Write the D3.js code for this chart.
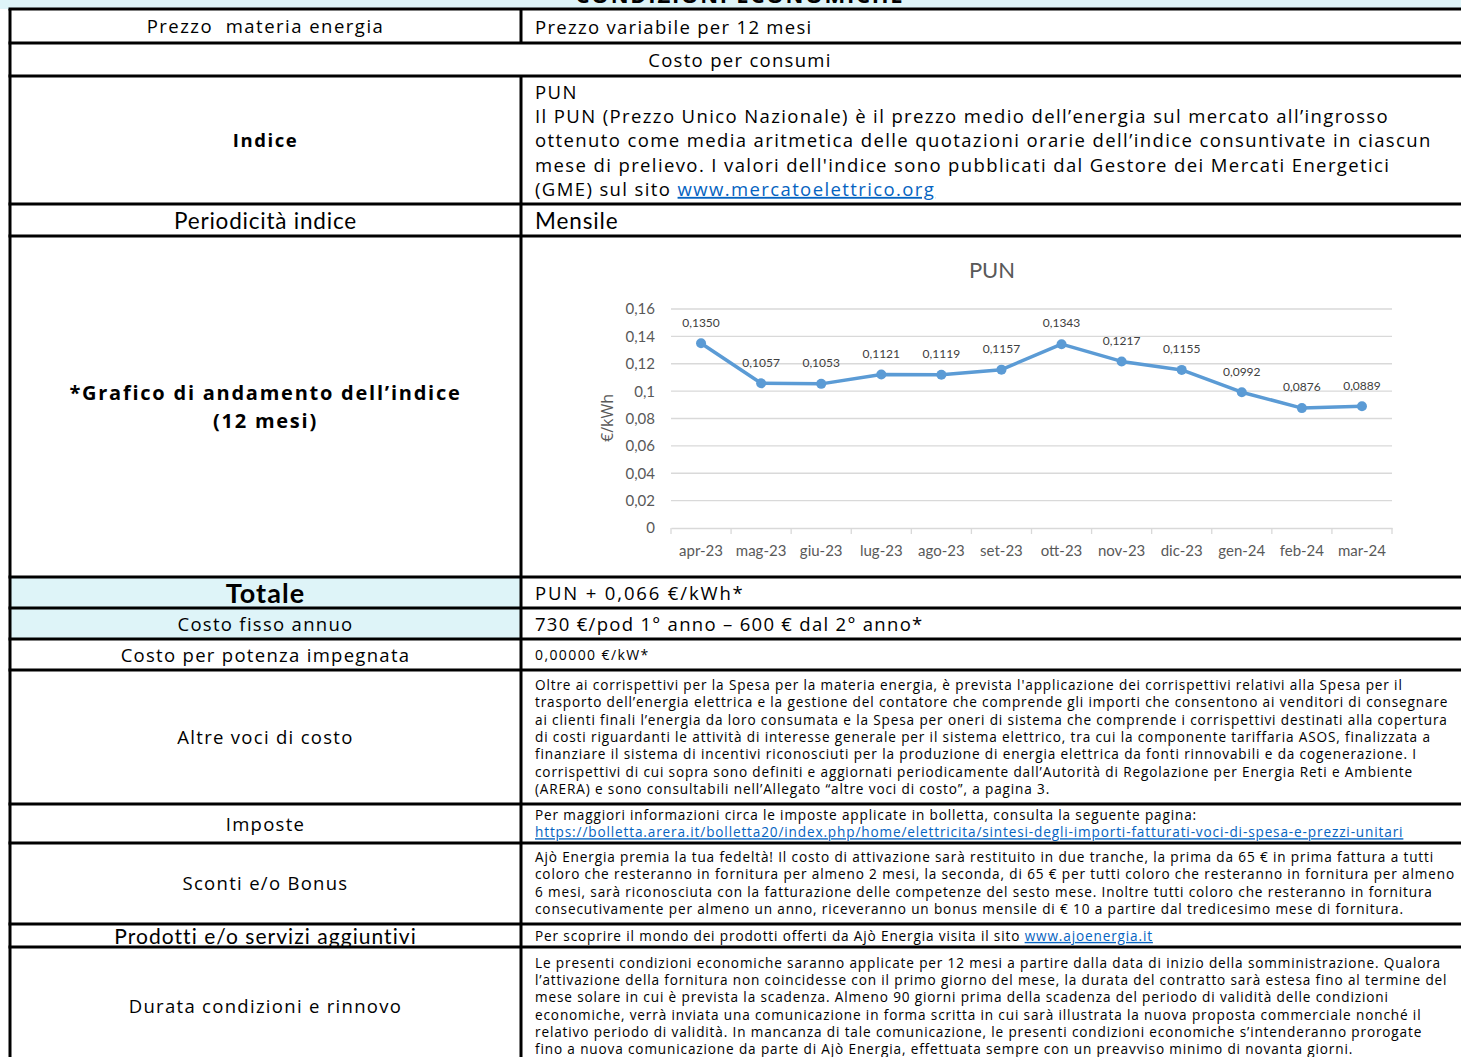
<!DOCTYPE html>
<html>
<head>
<meta charset="utf-8">
<script src="https://cdn.jsdelivr.net/npm/d3@7"></script>
<style>
  body { margin: 0; background: #fff; }
  svg { display: block; }
</style>
</head>
<body>
<script>
"use strict";

// chart data
var months = ["apr-23", "mag-23", "giu-23", "lug-23", "ago-23", "set-23",
              "ott-23", "nov-23", "dic-23", "gen-24", "feb-24", "mar-24"];
var pun = [0.1350, 0.1057, 0.1053, 0.1121, 0.1119, 0.1157,
           0.1343, 0.1217, 0.1155, 0.0992, 0.0876, 0.0889];
var yTicks = [0, 0.02, 0.04, 0.06, 0.08, 0.1, 0.12, 0.14, 0.16];

// table text
var headerTitle = "CONDIZIONI ECONOMICHE";
var indiceLines = [
  "PUN",
  "Il PUN (Prezzo Unico Nazionale) è il prezzo medio dell’energia sul mercato all’ingrosso",
  "ottenuto come media aritmetica delle quotazioni orarie dell’indice consuntivate in ciascun",
  "mese di prelievo. I valori dell'indice sono pubblicati dal Gestore dei Mercati Energetici",
  ["(GME) sul sito ", "www.mercatoelettrico.org"]
];
var altreLines = [
  "Oltre ai corrispettivi per la Spesa per la materia energia, è prevista l'applicazione dei corrispettivi relativi alla Spesa per il",
  "trasporto dell’energia elettrica e la gestione del contatore che comprende gli importi che consentono ai venditori di consegnare",
  "ai clienti finali l’energia da loro consumata e la Spesa per oneri di sistema che comprende i corrispettivi destinati alla copertura",
  "di costi riguardanti le attività di interesse generale per il sistema elettrico, tra cui la componente tariffaria ASOS, finalizzata a",
  "finanziare il sistema di incentivi riconosciuti per la produzione di energia elettrica da fonti rinnovabili e da cogenerazione. I",
  "corrispettivi di cui sopra sono definiti e aggiornati periodicamente dall’Autorità di Regolazione per Energia Reti e Ambiente",
  "(ARERA) e sono consultabili nell’Allegato “altre voci di costo”, a pagina 3."
];
var imposteLines = [
  "Per maggiori informazioni circa le imposte applicate in bolletta, consulta la seguente pagina:",
  ["", "https://bolletta.arera.it/bolletta20/index.php/home/elettricita/sintesi-degli-importi-fatturati-voci-di-spesa-e-prezzi-unitari"]
];
var scontiLines = [
  "Ajò Energia premia la tua fedeltà! Il costo di attivazione sarà restituito in due tranche, la prima da 65 € in prima fattura a tutti",
  "coloro che resteranno in fornitura per almeno 2 mesi, la seconda, di 65 € per tutti coloro che resteranno in fornitura per almeno",
  "6 mesi, sarà riconosciuta con la fatturazione delle competenze del sesto mese. Inoltre tutti coloro che resteranno in fornitura",
  "consecutivamente per almeno un anno, riceveranno un bonus mensile di € 10 a partire dal tredicesimo mese di fornitura."
];
var prodottiLines = [
  ["Per scoprire il mondo dei prodotti offerti da Ajò Energia visita il sito ", "www.ajoenergia.it"]
];
var durataLines = [
  "Le presenti condizioni economiche saranno applicate per 12 mesi a partire dalla data di inizio della somministrazione. Qualora",
  "l’attivazione della fornitura non coincidesse con il primo giorno del mese, la durata del contratto sarà estesa fino al termine del",
  "mese solare in cui è prevista la scadenza. Almeno 90 giorni prima della scadenza del periodo di validità delle condizioni",
  "economiche, verrà inviata una comunicazione in forma scritta in cui sarà illustrata la nuova proposta commerciale nonché il",
  "relativo periodo di validità. In mancanza di tale comunicazione, le presenti condizioni economiche s’intenderanno prorogate",
  "fino a nuova comunicazione da parte di Ajò Energia, effettuata sempre con un preavviso minimo di novanta giorni."
];

var W = 1461, H = 1057;
var xL = 10, xM = 521;
var gotham = "'Open Sans', sans-serif";
var calibri = "Lato, 'Open Sans', sans-serif";
var linkCol = "#0563c1";

var svg = d3.select("body").append("svg")
    .attr("width", W)
    .attr("height", H);

// backgrounds
svg.append("rect").attr("x", 0).attr("y", 0).attr("width", W).attr("height", 9).attr("fill", "#def4f8");
svg.append("rect").attr("x", xL).attr("y", 577).attr("width", xM - xL).attr("height", 62).attr("fill", "#def4f8");

svg.append("text")
    .attr("x", 740).attr("y", 3)
    .attr("text-anchor", "middle")
    .style("font-family", gotham).style("font-weight", "bold").style("font-size", "22px")
    .style("letter-spacing", "0.08em")
    .text(headerTitle);

// row layout
var rowLines = [9, 43, 76, 204, 236, 577, 608, 639, 670, 804, 843, 924, 947];

function cellText(x, y, str, size, opts){
  opts = opts || {};
  var ls = opts.ls != null ? opts.ls : (opts.font ? 0 : (opts.bold ? 0.085 : 0.07));
  return svg.append("text")
    .attr("x", x).attr("y", y).attr("dy", "0.36em")
    .attr("text-anchor", opts.anchor || "start")
    .style("font-family", opts.font || gotham)
    .style("font-size", size + "px")
    .style("font-weight", opts.bold ? "bold" : "normal")
    .style("letter-spacing", ls + "em")
    .style("white-space", "pre")
    .style("fill", "#000")
    .text(str);
}

function paragraph(x, y0, step, lines, size, ls){
  lines.forEach(function(l, i){
    var t = svg.append("text")
      .attr("x", x).attr("y", y0 + i * step).attr("dy", "0.36em")
      .style("font-family", gotham)
      .style("font-size", size + "px")
      .style("letter-spacing", ls + "em")
      .style("fill", "#000");
    if (typeof l === "string") { t.text(l); return; }
    if (l[0]) t.append("tspan").text(l[0]);
    t.append("tspan").style("fill", linkCol).style("text-decoration", "underline").text(l[1]);
  });
}

var cx = (xL + xM) / 2;
var rx = 535;
var pls = 0.063;

cellText(cx, 26, "Prezzo  materia energia", 18.5, {anchor: "middle", ls: 0.08});
cellText(rx, 27, "Prezzo variabile per 12 mesi", 18.5);
cellText(740, 60, "Costo per consumi", 18.5, {anchor: "middle"});

cellText(cx, 140, "Indice", 18.5, {anchor: "middle", bold: true});
paragraph(rx, 92, 24.3, indiceLines, 18.5, 0.075);

cellText(cx, 221, "Periodicità indice", 22.5, {anchor: "middle", font: calibri, ls: 0.035});
cellText(rx, 221, "Mensile", 22.5, {font: calibri, ls: 0.04});

cellText(cx, 393, "*Grafico di andamento dell’indice", 20, {anchor: "middle", bold: true, ls: 0.088});
cellText(cx, 421, "(12 mesi)", 20, {anchor: "middle", bold: true, ls: 0.088});

cellText(cx, 593, "Totale", 27, {anchor: "middle", bold: true, font: calibri, ls: 0.04});
cellText(rx, 593, "PUN + 0,066 €/kWh*", 18.5, {ls: 0.1});
cellText(cx, 624, "Costo fisso annuo", 18.5, {anchor: "middle"});
cellText(rx, 624, "730 €/pod 1° anno – 600 € dal 2° anno*", 18.5);
cellText(cx, 655, "Costo per potenza impegnata", 18.5, {anchor: "middle"});
cellText(rx, 655, "0,00000 €/kW*", 14, {ls: 0.1});

cellText(cx, 737, "Altre voci di costo", 18.5, {anchor: "middle"});
paragraph(rx, 685, 17.35, altreLines, 13.6, pls);

cellText(cx, 824, "Imposte", 18.5, {anchor: "middle"});
paragraph(rx, 815, 17.35, imposteLines, 13.6, pls);

cellText(cx, 883, "Sconti e/o Bonus", 18.5, {anchor: "middle"});
paragraph(rx, 857, 17.35, scontiLines, 13.6, pls);

cellText(cx, 936, "Prodotti e/o servizi aggiuntivi", 21, {anchor: "middle", font: calibri, ls: 0.05});
paragraph(rx, 936, 17.35, prodottiLines, 13.6, pls);

cellText(cx, 1006, "Durata condizioni e rinnovo", 18.5, {anchor: "middle"});
paragraph(rx, 963, 17.3, durataLines, 13.6, pls);

// ---- PUN chart ----
var grey = "#595959";
var x = d3.scaleBand().domain(months).range([671, 1392]);
var y = d3.scaleLinear().domain([0, 0.16]).range([528, 309]);
var fmt = function(v){ return String(+v.toFixed(2)).replace(".", ","); };

var chart = svg.append("g").attr("class", "chart");

chart.append("text")
    .attr("x", 992).attr("y", 270).attr("dy", "0.36em")
    .attr("text-anchor", "middle")
    .style("font-family", calibri).style("font-size", "22px").style("fill", grey)
    .text("PUN");

chart.selectAll("line.grid")
    .data(yTicks.filter(function(d){ return d > 0; }))
    .enter().append("line")
    .attr("class", "grid")
    .attr("x1", 671).attr("x2", 1392)
    .attr("y1", function(d){ return y(d); })
    .attr("y2", function(d){ return y(d); })
    .style("stroke", "#d9d9d9").style("stroke-width", 1.3);

var xAxis = chart.append("g")
    .attr("transform", "translate(0," + y(0) + ")")
    .call(d3.axisBottom(x).tickSize(0).tickFormat(""));
xAxis.select(".domain").style("stroke", "#d9d9d9").style("stroke-width", 1.3);
xAxis.selectAll(".tick").remove();

chart.selectAll("line.xtick")
    .data(months.concat(["end"]))
    .enter().append("line")
    .attr("class", "xtick")
    .attr("x1", function(d, i){ return 671 + i * x.bandwidth(); })
    .attr("x2", function(d, i){ return 671 + i * x.bandwidth(); })
    .attr("y1", y(0)).attr("y2", y(0) + 6)
    .style("stroke", "#d9d9d9").style("stroke-width", 1.3);

chart.selectAll("text.xlab")
    .data(months)
    .enter().append("text")
    .attr("class", "xlab")
    .attr("x", function(d){ return x(d) + x.bandwidth() / 2; })
    .attr("y", 551).attr("dy", "0.36em")
    .attr("text-anchor", "middle")
    .style("font-family", calibri).style("font-size", "15px").style("fill", grey)
    .text(function(d){ return d; });

chart.selectAll("text.ylab")
    .data(yTicks)
    .enter().append("text")
    .attr("class", "ylab")
    .attr("x", 655)
    .attr("y", function(d){ return y(d); }).attr("dy", "0.36em")
    .attr("text-anchor", "end")
    .style("font-family", calibri).style("font-size", "15px").style("fill", grey)
    .text(fmt);

chart.append("text")
    .attr("transform", "translate(607,418) rotate(-90)")
    .attr("dy", "0.36em")
    .attr("text-anchor", "middle")
    .style("font-family", gotham).style("font-size", "16px").style("fill", grey)
    .text("€/kWh");

var line = d3.line()
    .x(function(d, i){ return x(months[i]) + x.bandwidth() / 2; })
    .y(function(d){ return y(d); });

chart.append("path")
    .datum(pun)
    .attr("d", line)
    .style("fill", "none")
    .style("stroke", "#5b9bd5")
    .style("stroke-width", 3.5)
    .style("stroke-linejoin", "round");

chart.selectAll("circle.pt")
    .data(pun)
    .enter().append("circle")
    .attr("class", "pt")
    .attr("cx", function(d, i){ return x(months[i]) + x.bandwidth() / 2; })
    .attr("cy", function(d){ return y(d); })
    .attr("r", 5)
    .style("fill", "#5b9bd5");

chart.selectAll("text.dlab")
    .data(pun)
    .enter().append("text")
    .attr("class", "dlab")
    .attr("x", function(d, i){ return x(months[i]) + x.bandwidth() / 2; })
    .attr("y", function(d){ return y(d) - 21; }).attr("dy", "0.36em")
    .attr("text-anchor", "middle")
    .style("font-family", calibri).style("font-size", "12px").style("fill", "#404040")
    .text(function(d){ return d.toFixed(4).replace(".", ","); });

// ---- borders ----
svg.selectAll("line.row")
    .data(rowLines)
    .enter().append("line")
    .attr("class", "row")
    .attr("x1", xL - 1.5).attr("x2", W)
    .attr("y1", function(d){ return d; })
    .attr("y2", function(d){ return d; })
    .style("stroke", "#000").style("stroke-width", 3);

svg.append("line")
    .attr("x1", xL).attr("x2", xL).attr("y1", 9).attr("y2", H)
    .style("stroke", "#000").style("stroke-width", 3);

// divider skips the "Costo per consumi" row
[[9, 43], [76, H]].forEach(function(s){
  svg.append("line")
    .attr("x1", xM).attr("x2", xM).attr("y1", s[0]).attr("y2", s[1])
    .style("stroke", "#000").style("stroke-width", 3);
});
</script>
</body>
</html>
